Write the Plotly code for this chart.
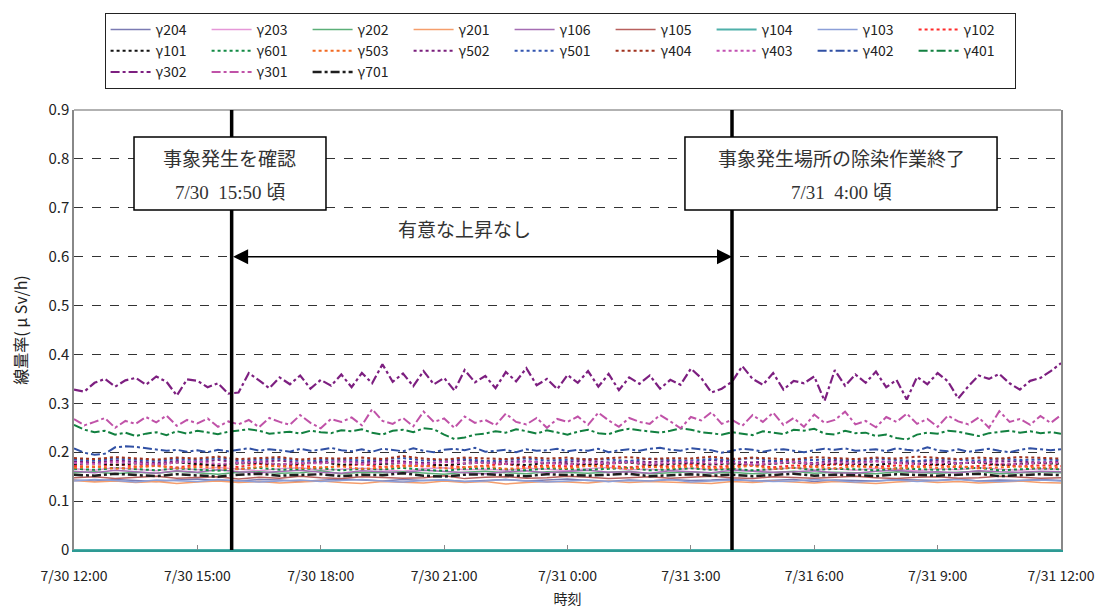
import pandas as pd
import plotly.graph_objects as go

# sampling times (15 min for the upper four monitors, 30 min for the dense band)
T15 = pd.date_range("2013-07-30 12:00", "2013-07-31 12:00", freq="15min")
T30 = pd.date_range("2013-07-30 12:00", "2013-07-31 12:00", freq="30min")

# dose rates, in nSv/h (divided by 1000 when plotted)
G302 = [328, 324, 342, 350, 334, 347, 352, 338, 355, 344, 316, 349,
        346, 333, 341, 320, 322, 362, 347, 331, 353, 339, 357, 330,
        348, 336, 359, 333, 362, 341, 380, 344, 361, 335, 366, 339,
        352, 326, 368, 343, 356, 331, 364, 345, 372, 337, 350, 329,
        358, 342, 366, 334, 360, 327, 353, 340, 357, 330, 348, 338,
        371, 352, 322, 330, 344, 376, 350, 338, 362, 328, 346, 341,
        355, 305, 368, 336, 359, 342, 365, 333, 348, 308, 354, 339,
        362, 345, 310, 335, 357, 350, 360, 341, 328, 346, 352, 366,
        382]
G301 = [268, 255, 262, 270, 250, 264, 258, 272, 261, 275, 254, 266,
        259, 269, 252, 263, 257, 266, 251, 270, 262, 256, 276, 260,
        249, 268, 262, 271, 255, 288, 264, 258, 270, 253, 283, 262,
        269, 250, 273, 260, 266, 255, 279, 262, 257, 270, 250, 268,
        262, 273, 256, 281, 265, 252, 270, 262, 258, 276, 263, 249,
        272, 265, 282, 258, 266, 254, 276, 262, 281, 256, 270, 252,
        277, 260, 266, 283, 257, 264, 251, 272, 262, 279, 258, 268,
        252, 275, 263, 257, 271, 250, 284, 262, 268, 256, 274, 260,
        276]
G401 = [256, 246, 241, 244, 236, 240, 233, 238, 241, 235, 243, 238,
        244, 240, 237, 242, 245, 247, 244, 238, 240, 242, 238, 244,
        241, 239, 245, 243, 247, 240, 236, 244, 246, 241, 249, 247,
        236, 227, 230, 236, 238, 243, 240, 247, 243, 238, 245, 240,
        236, 242, 246, 239, 237, 244, 248, 245, 242, 240, 244, 249,
        246, 241, 239, 236, 241, 238, 235, 243, 240, 237, 246, 244,
        248, 238, 236, 244, 239, 240, 233, 236, 229, 226, 236, 240,
        238, 244, 242, 237, 233, 239, 242, 244, 240, 243, 239, 241,
        238]
G402 = [208, 199, 195, 197, 210, 212, 211, 208, 206, 203, 205, 201,
        204, 200, 205, 202, 205, 208, 203, 206, 204, 201, 207, 203,
        205, 209, 204, 202, 206, 201, 207, 204, 202, 208, 203, 200,
        205, 207, 204, 209, 201, 203, 205, 200, 206, 203, 204, 207,
        202, 205, 203, 207, 200, 204, 206, 203, 207, 209, 205, 203,
        208, 206, 204, 199, 203, 207, 205, 201, 205, 206, 203, 200,
        204, 207, 205, 208, 203, 205, 206, 202, 208, 205, 203, 210,
        204, 202, 206, 201, 204, 207, 203, 200, 205, 208, 206, 204,
        206]

G204 = [143, 141, 144, 142, 140, 143, 145,
        142, 141, 144, 143, 140, 142, 145,
        143, 141, 144, 142, 143, 140, 142,
        144, 141, 143, 145, 142, 140, 143,
        141, 144, 142, 143, 145, 141, 142,
        144, 140, 143, 142, 141, 144, 143,
        142, 145, 141, 143, 142, 144, 142]
G203 = [166, 163, 168, 165, 162, 167, 164,
        169, 165, 162, 166, 168, 163, 165,
        167, 164, 161, 166, 168, 164, 165,
        163, 167, 165, 162, 166, 169, 164,
        165, 163, 167, 164, 166, 162, 165,
        168, 164, 166, 163, 167, 165, 162,
        166, 164, 168, 165, 163, 166, 165]
G202 = [158, 160, 156, 159, 157, 161, 158,
        155, 159, 160, 157, 158, 162, 156,
        159, 158, 160, 157, 155, 159, 161,
        158, 156, 160, 158, 157, 159, 161,
        156, 158, 160, 157, 159, 156, 158,
        161, 157, 159, 158, 156, 160, 158,
        157, 159, 161, 156, 158, 160, 158]
G201 = [142, 139, 141, 138, 140, 136, 139,
        141, 138, 140, 137, 139, 141, 138,
        136, 140, 139, 137, 141, 138, 140,
        135, 138, 140, 139, 137, 141, 138,
        140, 139, 137, 136, 140, 138, 141,
        139, 137, 140, 138, 136, 139, 141,
        138, 140, 137, 139, 141, 138, 137]
G106 = [161, 158, 163, 160, 157, 162, 159,
        164, 160, 158, 161, 163, 159, 157,
        162, 160, 158, 163, 161, 159, 156,
        160, 162, 158, 161, 163, 159, 160,
        157, 162, 160, 158, 163, 161, 159,
        160, 162, 158, 157, 161, 163, 159,
        160, 158, 162, 160, 159, 161, 160]
G105 = [148, 150, 146, 149, 151, 147, 148,
        150, 145, 149, 147, 151, 148, 146,
        150, 149, 147, 148, 152, 146, 149,
        150, 147, 148, 151, 149, 146, 148,
        150, 147, 149, 151, 148, 146, 150,
        148, 147, 149, 151, 148, 146, 149,
        150, 147, 148, 151, 149, 147, 148]
G104 = [0, 0, 0, 0, 0, 0, 0,
        0, 0, 0, 0, 0, 0, 0,
        0, 0, 0, 0, 0, 0, 0,
        0, 0, 0, 0, 0, 0, 0,
        0, 0, 0, 0, 0, 0, 0,
        0, 0, 0, 0, 0, 0, 0,
        0, 0, 0, 0, 0, 0, 0]
G103 = [141, 144, 142, 139, 143, 141, 140,
        144, 142, 139, 141, 143, 140, 142,
        144, 141, 139, 142, 143, 140, 141,
        144, 142, 139, 141, 143, 140, 142,
        141, 144, 139, 141, 143, 142, 140,
        141, 144, 142, 139, 141, 143, 140,
        142, 144, 141, 140, 142, 143, 141]
G102 = [172, 170, 175, 171, 173, 169, 174,
        172, 170, 176, 171, 173, 168, 172,
        175, 170, 173, 171, 174, 169, 172,
        176, 170, 173, 171, 174, 172, 169,
        173, 171, 175, 170, 172, 174, 169,
        173, 171, 175, 172, 170, 173, 171,
        174, 169, 172, 175, 171, 173, 172]
G101 = [176, 178, 174, 177, 175, 179, 176,
        173, 177, 178, 175, 176, 180, 174,
        177, 176, 178, 175, 173, 177, 179,
        176, 174, 178, 176, 175, 177, 179,
        174, 176, 178, 175, 177, 174, 176,
        179, 175, 177, 176, 174, 178, 176,
        175, 177, 179, 174, 176, 178, 176]
G601 = [166, 164, 168, 165, 163, 167, 165,
        162, 166, 168, 164, 165, 167, 163,
        166, 165, 168, 164, 162, 166, 167,
        165, 163, 167, 165, 164, 166, 168,
        163, 165, 167, 164, 166, 163, 165,
        168, 164, 166, 165, 163, 167, 165,
        164, 166, 168, 163, 165, 167, 165]
G503 = [168, 171, 166, 169, 172, 167, 170,
        168, 165, 170, 172, 167, 169, 171,
        166, 168, 170, 173, 167, 169, 171,
        166, 168, 170, 167, 172, 169, 166,
        170, 168, 171, 167, 169, 172, 166,
        168, 170, 167, 171, 169, 166, 170,
        168, 172, 167, 169, 171, 168, 169]
G502 = [181, 179, 183, 180, 178, 182, 180,
        184, 179, 181, 183, 178, 180, 182,
        179, 183, 181, 178, 180, 184, 179,
        181, 182, 178, 180, 183, 179, 181,
        180, 182, 178, 184, 180, 179, 182,
        181, 178, 183, 180, 182, 179, 181,
        183, 178, 180, 182, 181, 179, 181]
G501 = [185, 183, 187, 184, 182, 186, 184,
        188, 183, 185, 187, 182, 184, 186,
        183, 185, 188, 183, 184, 186, 182,
        185, 187, 183, 184, 186, 185, 182,
        187, 184, 183, 186, 184, 188, 182,
        185, 184, 186, 183, 187, 184, 182,
        186, 185, 183, 187, 184, 185, 184]
G404 = [188, 186, 190, 187, 185, 189, 187,
        191, 186, 188, 190, 185, 188, 187,
        189, 186, 192, 187, 185, 189, 188,
        186, 190, 187, 189, 185, 188, 190,
        186, 188, 187, 191, 186, 189, 187,
        185, 190, 188, 186, 189, 187, 191,
        188, 186, 189, 187, 190, 188, 187]
G403 = [178, 176, 180, 177, 175, 179, 181,
        176, 178, 180, 175, 178, 177, 181,
        176, 179, 178, 175, 180, 177, 179,
        176, 181, 178, 175, 179, 177, 180,
        176, 178, 181, 177, 179, 175, 178,
        180, 176, 179, 177, 181, 178, 176,
        179, 177, 180, 178, 175, 179, 178]
G701 = [154, 152, 156, 153, 151, 155, 153,
        150, 154, 156, 152, 153, 155, 151,
        154, 153, 157, 152, 150, 154, 155,
        153, 151, 155, 153, 152, 154, 156,
        151, 153, 155, 152, 154, 151, 153,
        156, 152, 154, 153, 151, 155, 153,
        152, 154, 156, 151, 153, 155, 153]

# legend order (row by row), styling per monitor
SERIES = [
    ("γ204", T30, G204, "#7B7BB3", "solid", 1.5),
    ("γ203", T30, G203, "#E597D8", "solid", 1.5),
    ("γ202", T30, G202, "#5BAF78", "solid", 1.5),
    ("γ201", T30, G201, "#F59E6C", "solid", 1.5),
    ("γ106", T30, G106, "#A56DB3", "solid", 1.5),
    ("γ105", T30, G105, "#B8605E", "solid", 1.5),
    ("γ104", T30, G104, "#4FB0AA", "solid", 2),
    ("γ103", T30, G103, "#8C9FD8", "solid", 1.5),
    ("γ102", T30, G102, "#FF2A2A", "dot", 2),
    ("γ101", T30, G101, "#111111", "dot", 2),
    ("γ601", T30, G601, "#138A45", "dot", 2),
    ("γ503", T30, G503, "#F26A22", "dot", 2),
    ("γ502", T30, G502, "#7A1F7C", "dot", 2),
    ("γ501", T30, G501, "#3355B0", "dot", 2),
    ("γ404", T30, G404, "#A0321E", "dot", 2),
    ("γ403", T30, G403, "#C251B2", "dot", 2),
    ("γ402", T15, G402, "#3050A4", "dashdot", 2),
    ("γ401", T15, G401, "#128040", "dashdot", 2),
    ("γ302", T15, G302, "#7D1F80", "dashdot", 2.2),
    ("γ301", T15, G301, "#C052A8", "dashdot", 2),
    ("γ701", T30, G701, "#1E1E1E", "dashdot", 2.5),
]

EVENT_START = "2013-07-30 15:50"
EVENT_END = "2013-07-31 04:00"

SANS = "Noto Sans CJK JP, sans-serif"
SERIF = "Liberation Serif, Noto Sans CJK JP, serif"

fig = go.Figure()
for name, t, vals, color, dash, width in SERIES:
    fig.add_trace(go.Scatter(x=t, y=[v / 1000 for v in vals], name=name, mode="lines",
                             line=dict(color=color, dash=dash, width=width)))

# top frame, event markers, then white boxes on top of them
shapes = [dict(type="line", xref="paper", yref="paper", x0=0, x1=1, y0=1, y1=1,
               line=dict(color="#999", width=1.5))]
for t in (EVENT_START, EVENT_END):
    shapes.append(dict(type="line", xref="x", yref="paper", x0=t, x1=t, y0=0, y1=1,
                       line=dict(color="black", width=3.5)))
for x0, x1 in ((0.0608, 0.2553), (0.619, 0.9352)):
    shapes.append(dict(type="rect", xref="paper", yref="paper", x0=x0, x1=x1,
                       y0=0.7727, y1=0.9386, fillcolor="white",
                       line=dict(color="black", width=1.5), layer="above"))

txt = dict(family=SERIF, size=19, color="#333")
annotations = [
    dict(xref="paper", yref="paper", x=0.158, y=0.8886, text="事象発生を確認", font=txt),
    dict(xref="paper", yref="paper", x=0.158, y=0.8136, text="7/30  15:50 頃", font=txt),
    dict(xref="paper", yref="paper", x=0.778, y=0.8886, text="事象発生場所の除染作業終了", font=txt),
    dict(xref="paper", yref="paper", x=0.778, y=0.8136, text="7/31  4:00 頃", font=txt),
    dict(xref="paper", yref="paper", x=0.396, y=0.727, text="有意な上昇なし", font=txt),
]
for a in annotations:
    a.update(showarrow=False, xanchor="center", yanchor="middle")
annotations.append(
    dict(xref="x", yref="y", x=EVENT_END, y=0.6, axref="x", ayref="y", ax=EVENT_START, ay=0.6,
         text="", showarrow=True, arrowside="end+start", arrowhead=2, arrowsize=2,
         arrowwidth=1.5, arrowcolor="black"))

fig.update_layout(
    width=1096, height=602,
    margin=dict(l=66, r=43, t=102, b=60, autoexpand=False),
    plot_bgcolor="white", paper_bgcolor="white",
    font=dict(family=SANS, size=14, color="#222"),
    shapes=shapes, annotations=annotations,
    legend=dict(orientation="h", x=0.031, y=1.2205, xanchor="left", yanchor="top",
                bordercolor="#222", borderwidth=1, bgcolor="white",
                entrywidth=46, entrywidthmode="pixels", itemwidth=40,
                font=dict(family=SANS, size=14), traceorder="normal"),
    showlegend=True,
)
fig.update_xaxes(
    type="date", range=["2013-07-30 12:00", "2013-07-31 12:00"], automargin=False,
    dtick=3 * 3600 * 1000, tick0="2013-07-30 12:00", tickformat="%-m/%-d %-H:%M",
    ticks="inside", ticklen=5, tickcolor="#888", showgrid=False,
    showline=True, mirror=False, linecolor="#2E9A94", linewidth=2,
    ticklabelstandoff=12,
    title=dict(text="時刻", standoff=10, font=dict(size=14)),
    tickfont=dict(size=14),
)
fig.update_yaxes(
    range=[0, 0.9], dtick=0.1, showgrid=True, gridcolor="#333", griddash="dash",
    gridwidth=1, zeroline=False, showline=True, mirror=True, linecolor="#888", linewidth=1.5,
    automargin=False,
    title=dict(text="線量率( μ Sv/h)", standoff=32, font=dict(size=16)),
    tickfont=dict(size=15),
)

fig.write_html("out.html")
